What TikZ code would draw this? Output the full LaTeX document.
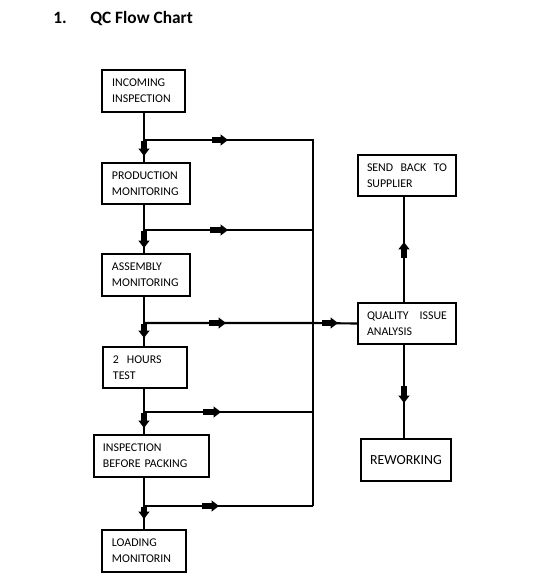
\documentclass[tikz,border=0pt]{standalone}
\usepackage{fontspec}
\setmainfont{Carlito}
\usetikzlibrary{arrows.meta,calc}
\begin{document}
\begin{tikzpicture}[x=0.75pt,y=-0.75pt,
  box/.style={draw, line width=1.2pt, rectangle, inner xsep=7.5pt, inner ysep=0pt,
    align=left, font=\fontsize{8.9pt}{12pt}\selectfont},
  conn/.style={line width=1.6pt},
  blk/.style={line width=4pt, -{Triangle[length=5.5pt,width=8pt]}},
  ttl/.style={anchor=base west, inner sep=0pt, font=\bfseries\fontsize{13pt}{15pt}\selectfont}]
\useasboundingbox (0,0) rectangle (553,587);
% title
\node[ttl] (num) at (53,23) {1.};
\node[ttl] (title) at (90,23) {QC Flow Chart};
% boxes
\node[box, text width=47pt, minimum height=31.5pt] (inc) at (143.5,91) {INCOMING\\INSPECTION};
\node[box, text width=51pt, minimum height=30.75pt] (prod) at (146,183.5) {PRODUCTION\\MONITORING};
\node[box, text width=51pt, minimum height=31.5pt] (asm) at (146,275) {ASSEMBLY\\MONITORING};
\node[box, text width=48pt, minimum height=30.75pt] (test) at (145,367.5) {2~~HOURS\\TEST};
\node[box, inner xsep=6.75pt, text width=72.75pt, minimum height=31.5pt] (ibp) at (151.5,456) {INSPECTION\\BEFORE PACKING};
\node[box, text width=48pt, minimum height=31.5pt] (load) at (144,551) {LOADING\\MONITORIN};
\node[box, inner xsep=6.75pt, text width=60pt, minimum height=30.75pt] (send) at (407,175.5) {\hbox to 60pt{SEND\hfill BACK\hfill TO}\\SUPPLIER};
\node[box, inner xsep=6.75pt, text width=60pt, minimum height=30.75pt] (qia) at (407,323.5) {\hbox to 60pt{QUALITY\hfill ISSUE}\\ANALYSIS};
\node[box, align=center, inner xsep=0pt, minimum width=67.5pt, minimum height=31.5pt, font=\fontsize{10.4pt}{12pt}\selectfont] (rew) at (406,460) {REWORKING};
% junctions
\coordinate (j1) at (144,140);
\coordinate (j2) at (144,230);
\coordinate (j3) at (144,323);
\coordinate (j4) at (144,412);
\coordinate (j5) at (144,506);
\coordinate (b1) at (313,140);
\coordinate (b2) at (313,230);
\coordinate (b3) at (313,323);
\coordinate (b4) at (313,412);
\coordinate (b5) at (313,506);
\coordinate (sv) at (404,250);
% trunk
\draw[conn] (inc.south -| j1) -- (j1) -- (prod.north -| j1);
\draw[conn] (prod.south -| j2) -- (j2) -- (asm.north -| j2);
\draw[conn] (asm.south -| j3) -- (j3) -- (test.north -| j3);
\draw[conn] (test.south -| j4) -- (j4) -- (ibp.north -| j4);
\draw[conn] (ibp.south -| j5) -- (j5) -- (load.north -| j5);
% branches and bus
\draw[conn] (j1) -- (b1) -- (b5);
\draw[conn] (j2) -- (b2);
\draw[conn] (j3) -- (b3) -- (qia.west);
\draw[conn] (j4) -- (b4);
\draw[conn] (j5) -- (b5);
\draw[conn] (qia.north -| sv) -- (send.south -| sv);
\draw[conn] (qia.south -| sv) -- (rew.north -| sv);
% arrow marks
\draw[blk] ($(j1)+(0,1)$) -- ++(0,15);
\draw[blk] ($(j2)+(0,1)$) -- ++(0,17);
\draw[blk] ($(j3)+(0,1)$) -- ++(0,14);
\draw[blk] ($(j4)+(0,1)$) -- ++(0,15);
\draw[blk] ($(j5)+(0,1)$) -- ++(0,12);
\draw[blk] (212,140) -- (228,140);
\draw[blk] (210,230) -- (228,230);
\draw[blk] (209,323) -- (226,323);
\draw[blk] (203,412) -- (221,412);
\draw[blk] (202,506) -- (219,506);
\draw[blk] (322,323) -- (338,323);
\draw[blk] ($(sv)+(0,8)$) -- (404,242);
\draw[blk] (404,386) -- (404,403);
\end{tikzpicture}
\end{document}
